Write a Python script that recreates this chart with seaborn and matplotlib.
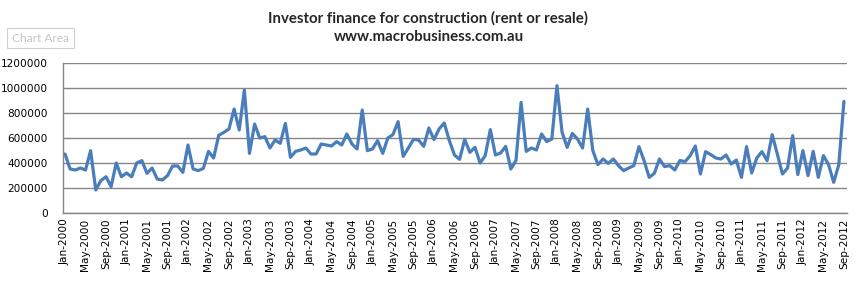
import matplotlib
matplotlib.use("Agg")
import matplotlib.pyplot as plt
import seaborn as sns
import pandas as pd
import numpy as np

# Monthly investor finance for construction, Jan-2000 .. Sep-2012 (dollars)
values_2000 = [472, 352, 344, 360, 344, 499, 184, 259, 290, 211, 400, 290]
values_2001 = [320, 290, 400, 419, 317, 360, 272, 264, 299, 376, 376, 325]
values_2002 = [544, 352, 339, 357, 493, 440, 622, 645, 672, 832, 664, 984]
values_2003 = [477, 712, 600, 611, 520, 584, 557, 717, 445, 493, 504, 520]
values_2004 = [472, 472, 552, 544, 536, 571, 544, 632, 552, 512, 824, 499]
values_2005 = [512, 579, 477, 600, 627, 731, 453, 520, 589, 584, 533, 680]
values_2006 = [587, 672, 720, 579, 464, 429, 589, 485, 525, 400, 459, 667]
values_2007 = [464, 480, 533, 352, 419, 885, 493, 520, 504, 632, 571, 592]
values_2008 = [1019, 645, 525, 637, 592, 520, 832, 499, 387, 432, 397, 432]
values_2009 = [379, 339, 360, 379, 531, 419, 285, 317, 432, 371, 379, 344]
values_2010 = [420, 411, 459, 536, 312, 491, 467, 440, 432, 464, 392, 424]
values_2011 = [285, 531, 320, 440, 491, 419, 627, 472, 312, 360, 619, 307]
values_2012 = [499, 299, 493, 285, 459, 387, 245, 387, 893]

values_k = (values_2000 + values_2001 + values_2002 + values_2003 + values_2004
            + values_2005 + values_2006 + values_2007 + values_2008 + values_2009
            + values_2010 + values_2011 + values_2012)
values = [v * 1000 for v in values_k]

months = pd.date_range("2000-01-01", periods=len(values), freq="MS")
month_labels = [d.strftime("%b-%Y") for d in months]
y_ticks = [0, 200000, 400000, 600000, 800000, 1000000, 1200000]
y_tick_labels = [str(v) for v in y_ticks]

title_line1 = "Investor finance for construction (rent or resale)"
title_line2 = "www.macrobusiness.com.au"

df = pd.DataFrame({"idx": np.arange(len(values)), "value": values, "month": month_labels})

sns.set_theme(style="white")
plt.rcParams["font.family"] = ["DejaVu Sans"]

W, H = 860, 282
fig = plt.figure(figsize=(W / 100, H / 100), dpi=100)
left, right, top, bottom = 63, 847, 63, 213
ax = fig.add_axes([left / W, 1 - bottom / H, (right - left) / W, (bottom - top) / H])

sns.lineplot(data=df, x="idx", y="value", ax=ax, color="#4A7EBB", linewidth=2.3)

ax.set_xlim(-0.39, 152.6)
ax.set_ylim(0, 1200000)
ax.set_yticks(y_ticks)
ax.set_yticklabels(y_tick_labels, fontsize=7.6, color="#000000")
tick_pos = list(range(0, len(values), 4))
ax.set_xticks(tick_pos)
ax.set_xticklabels([month_labels[i] for i in tick_pos], rotation=90, fontsize=7.6, color="#000000")
ax.tick_params(axis="both", length=0, pad=4)
ax.tick_params(axis="y", pad=11)
ax.set_xlabel("")
ax.set_ylabel("")

ax.grid(axis="y", color="#868686", linewidth=1.0)
ax.set_axisbelow(True)
for s in ["top", "right"]:
    ax.spines[s].set_visible(False)
for s in ["left", "bottom"]:
    ax.spines[s].set_color("#868686")
    ax.spines[s].set_linewidth(1.0)

fig.text(0.498, 1 - 18 / H, title_line1, ha="center", va="center",
         fontsize=10.8, fontweight="bold", family=["Lato", "DejaVu Sans"])
fig.text(0.499, 1 - 37 / H, title_line2, ha="center", va="center",
         fontsize=10.8, fontweight="bold", family=["Lato", "DejaVu Sans"])

fig.text(12 / W, 1 - 38 / H, "Chart Area", ha="left", va="center", fontsize=8.6,
         color="#c4c4c4", family=["Lato", "DejaVu Sans"],
         bbox=dict(boxstyle="square,pad=0.4", facecolor="white", edgecolor="#d0d0d0", linewidth=0.8))

fig.savefig("out.png", dpi=100)
